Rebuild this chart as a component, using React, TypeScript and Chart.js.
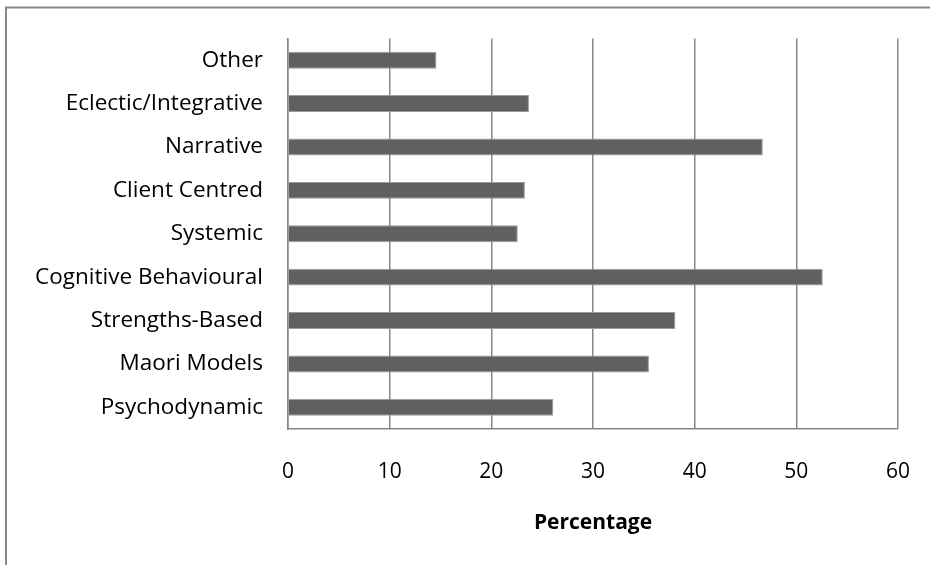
import React, { useEffect, useRef } from "react";
import { Chart, registerables } from "chart.js";

Chart.register(...registerables);

const categories = [
  "Other",
  "Eclectic/Integrative",
  "Narrative",
  "Client Centred",
  "Systemic",
  "Cognitive Behavioural",
  "Strengths-Based",
  "Maori Models",
  "Psychodynamic",
];
const percentages = [14.6, 23.7, 46.7, 23.3, 22.6, 52.6, 38.1, 35.5, 26.1];
const xTicks = [0, 10, 20, 30, 40, 50, 60];
const axisTitle = "Percentage";

const FONT = "'Open Sans', sans-serif";

const frame = {
  id: "frame",
  afterDraw(chart: any) {
    const ctx = chart.ctx;
    ctx.save();
    ctx.strokeStyle = "#898989";
    ctx.lineWidth = 2;
    ctx.beginPath();
    ctx.moveTo(6, 565);
    ctx.lineTo(6, 7.5);
    ctx.lineTo(930, 7.5);
    ctx.stroke();
    ctx.restore();
  },
};

export default function App() {
  const ref = useRef<HTMLCanvasElement>(null);
  useEffect(() => {
    if (!ref.current) return;
    const chart = new Chart(ref.current, {
      type: "bar",
      data: {
        labels: categories,
        datasets: [
          {
            data: percentages,
            backgroundColor: "#606060",
            borderColor: "#9a9a9a",
            borderWidth: 1,
            categoryPercentage: 1,
            barPercentage: 0.39,
          },
        ],
      },
      options: {
        indexAxis: "y",
        animation: false,
        responsive: false,
        maintainAspectRatio: false,
        layout: { padding: { left: 0, top: 36, right: 32, bottom: 0 } },
        plugins: { legend: { display: false }, tooltip: { enabled: false } },
        scales: {
          x: {
            min: 0,
            max: 60,
            afterBuildTicks: (s: any) => {
              s.ticks = xTicks.map((v) => ({ value: v }));
            },
            afterFit: (s: any) => {
              s.height = 136;
              s.paddingLeft = 0;
              s.paddingRight = 0;
            },
            grid: { color: "#878787", lineWidth: 1.5, drawTicks: false },
            border: { display: true, color: "#878787", width: 1.5 },
            ticks: {
              padding: 30,
              color: "#000",
              font: { family: FONT, size: 21 },
            },
            title: {
              display: true,
              text: axisTitle,
              color: "#000",
              font: { family: FONT, size: 21, weight: "bold" },
              padding: { top: 0, bottom: 29 },
            },
          },
          y: {
            afterFit: (s: any) => {
              s.width = 288;
            },
            grid: { display: false, drawTicks: false },
            border: { display: true, color: "#878787", width: 1.5 },
            ticks: {
              padding: 25,
              color: "#000",
              font: { family: FONT, size: 22.5 },
            },
          },
        },
      },
      plugins: [frame],
    });
    return () => chart.destroy();
  }, []);
  return (
    <div style={{ position: "fixed", left: 0, top: 0, width: 930, height: 565, background: "#fff" }}>
      <canvas ref={ref} width={930} height={565} style={{ width: 930, height: 565, display: "block" }} />
    </div>
  );
}
